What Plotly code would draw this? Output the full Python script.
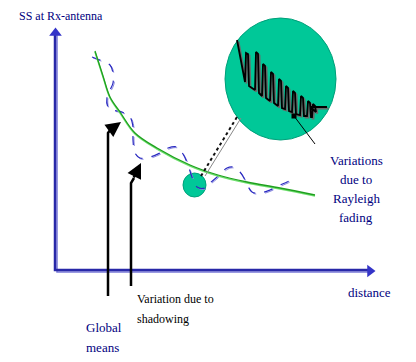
import plotly.graph_objects as go

# ---- data (diagram coordinates, y grows downward) ----
global_mean_x = [95, 103, 110, 120, 135, 157, 190, 218, 247, 280, 315]
global_mean_y = [51, 76, 97, 112, 133, 148, 165, 175, 182, 188, 195]

shadow_x = [92, 100, 110, 113, 113, 110, 107, 108, 113, 122, 130, 133, 133, 135, 140,
            150, 160, 168, 177, 183, 188, 192, 197, 205, 210, 217, 227, 233, 240, 245,
            252, 260, 270, 280, 287, 295]
shadow_y = [57, 60, 65, 73, 83, 90, 97, 107, 110, 112, 117, 127, 140, 153, 158,
            157, 153, 148, 147, 154, 165, 177, 187, 188, 183, 177, 168, 167, 172, 180,
            192, 193, 190, 185, 182, 178]

rayleigh_x = [237, 245, 246, 248, 249, 255, 256, 258, 259, 262, 263, 265, 266,
              270, 271, 273, 274, 278, 279, 281, 282, 285, 286, 288, 289,
              292, 293, 295, 296, 300, 301, 303, 304, 307, 308, 310, 311,
              312, 313, 315, 316, 310, 327]
rayleigh_y = [40, 82, 53, 54, 86, 90, 52, 54, 93, 96, 64, 66, 98,
              101, 72, 74, 103, 106, 79, 81, 108, 109, 86, 88, 111,
              112, 91, 93, 114, 115, 96, 98, 116, 116, 101, 103, 117,
              117, 104, 106, 112, 107, 107]

NAVY = "#000080"
AX_DARK = "#2828a8"
AX_LIGHT = "#7a7ad8"
TEAL = "#00c898"
TEAL_EDGE = "#00a07a"
SERIF = "serif"

fig = go.Figure()

def line(xs, ys, color, width, dash="solid", shape="linear"):
    fig.add_trace(go.Scatter(x=xs, y=ys, mode="lines", hoverinfo="skip",
                             line=dict(color=color, width=width, dash=dash, shape=shape)))

# axes (double lines with arrow heads)
line([57, 57, 372], [34, 272, 272], AX_LIGHT, 1.5)
line([55, 55, 370], [34, 270, 270], AX_DARK, 2.5)
fig.add_trace(go.Scatter(x=[55.5], y=[33], mode="markers", hoverinfo="skip",
                         marker=dict(symbol="triangle-up", size=11, color="#3434c8")))
fig.add_trace(go.Scatter(x=[370], y=[271], mode="markers", hoverinfo="skip",
                         marker=dict(symbol="triangle-right", size=11, color="#3434c8")))

# shadowing (blue dashed)
line([v + 1 for v in shadow_x], [v + 1 for v in shadow_y], "#8a8ae0", 1, "dash", "spline")
line(shadow_x, shadow_y, "#2a2ac0", 1.2, "dash", "spline")

# global mean (green)
line(global_mean_x, [v + 1 for v in global_mean_y], "#70e070", 1.5, shape="spline")
line(global_mean_x, global_mean_y, "#1fa01f", 1.3, shape="spline")

# circles
shapes = [
    dict(type="circle", xref="x", yref="y", x0=183, x1=206, y0=173, y1=197,
         fillcolor=TEAL, line=dict(color=TEAL_EDGE, width=1), layer="below"),
    dict(type="circle", xref="x", yref="y", x0=225, x1=336, y0=18, y1=140,
         fillcolor=TEAL, line=dict(color=TEAL_EDGE, width=1), layer="below"),
]

# connector small -> big circle
line([205, 241], [176, 118], "#888888", 1)
line([201, 237], [176, 117], "#111111", 2, "dot")

# rayleigh squiggle
line([v + 1.5 for v in rayleigh_x], [v + 1.5 for v in rayleigh_y], "#6a6a6a", 1.8)
line(rayleigh_x, rayleigh_y, "#000000", 1.8)
line([294, 315], [116, 144], "#000000", 1)
fig.add_trace(go.Scatter(x=[294], y=[116], mode="markers", hoverinfo="skip",
                         marker=dict(symbol="square", size=5, color="#000000")))

# pointer arrow stems
line([108, 108, 111], [296, 133, 129], "#000000", 2.5)
line([131, 131, 134], [286, 183, 178], "#000000", 2.5)

annotations = [
    dict(x=121, y=122, ax=110, ay=130, xref="x", yref="y", axref="x", ayref="y",
         showarrow=True, arrowhead=2, arrowsize=1.2, arrowwidth=2.5, arrowcolor="#000000", text=""),
    dict(x=141, y=163, ax=133, ay=179, xref="x", yref="y", axref="x", ayref="y",
         showarrow=True, arrowhead=2, arrowsize=1.2, arrowwidth=2.5, arrowcolor="#000000", text=""),
]

def label(txt, x, y, color=NAVY, size=12, xanchor="center"):
    annotations.append(dict(x=x, y=y, xref="x", yref="y", text=txt, showarrow=False,
                            xanchor=xanchor, yanchor="middle",
                            font=dict(family=SERIF, size=size, color=color)))

label("SS at Rx-antenna", 61, 16, size=12)
label("distance", 369, 292, size=13)
label("Variations", 356, 160, size=13)
label("due to", 356, 179, size=13)
label("Rayleigh", 356, 198, size=13)
label("fading", 356, 217, size=13)
label("Variation due to", 135, 299, color="#000000", size=12, xanchor="left")
label("shadowing", 135, 319, color="#000000", size=12, xanchor="left")
label("Global", 84, 327, size=13, xanchor="left")
label("means", 84, 347, size=13, xanchor="left")

# the page body has an 8px margin: shift the ranges so diagram coords equal page pixels
fig.update_layout(
    width=416, height=362, margin=dict(l=0, r=0, t=0, b=0),
    paper_bgcolor="white", plot_bgcolor="white", showlegend=False,
    font=dict(family=SERIF),
    xaxis=dict(range=[8, 424], visible=False, fixedrange=True),
    yaxis=dict(range=[370, 8], visible=False, fixedrange=True),
    shapes=shapes, annotations=annotations,
)

fig.write_html("out.html", config={"displayModeBar": False})
